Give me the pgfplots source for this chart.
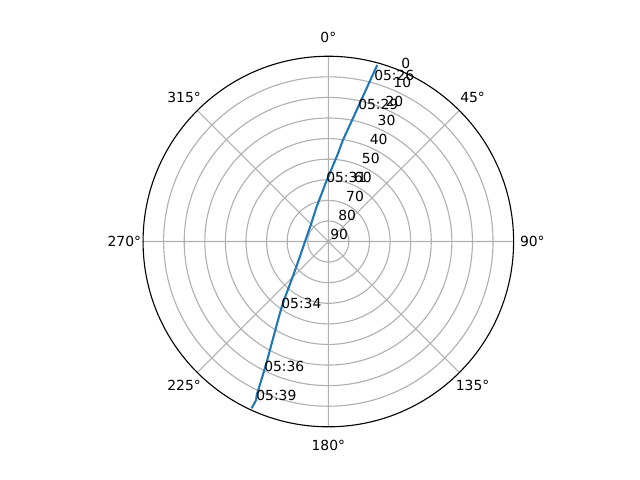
\documentclass[border=0pt]{standalone}
\usepackage{fontspec}
\setmainfont{DejaVu Sans}
\usepackage{pgfplots}
\usepackage{pgfplotstable}
\pgfplotsset{compat=1.18}
\usepgfplotslibrary{polar}
\definecolor{mplblue}{HTML}{1F77B4}
\definecolor{gridgray}{HTML}{B0B0B0}

% pass track: azimuth (deg, clockwise from N), elevation (deg)
\pgfplotstableread{
az el
15.5 1.0
14.6 8.9
12.2 24.6
8.2 40.2
6.0 47.7
0.6 57.7
357.8 61.1
339.7 72.8
313.2 78.3
270.5 78.7
239.9 73.7
226.3 66.5
217.1 54.3
215.0 50.0
211.2 40.7
207.1 24.4
206.4 19.7
205.0 7.7
204.5 5.4
204.7 0.8
}\track

\pgfplotstableread{
az el label
15.8 8.5 05:26
12.7 24.5 05:29
357.8 61.1 05:31
215.0 50.0 05:34
206.4 19.7 05:36
204.5 5.4 05:39
}\passlabels

\begin{document}
\begin{tikzpicture}
\begin{polaraxis}[
  scale only axis,
  width=266.8pt, height=266.8pt,
  xmin=0, xmax=360, ymin=0, ymax=90,
  xtick={0,45,...,315}, xticklabels={},
  ytick={10,20,...,80}, yticklabels={},
  grid=major,
  major grid style={gridgray, line width=0.8pt},
  major tick length=0pt,
  axis line style={black, line width=0.8pt},
  y axis line style={draw=none},
  clip=false,
]
\addplot[mplblue, line width=1.5pt, no marks]
  table[x expr={90-\thisrow{az}}, y expr={90-\thisrow{el}}] {\track};
\addplot[draw=none, no marks, nodes near coords, point meta=explicit symbolic,
  every node near coord/.append style={anchor=base west, inner sep=0pt, text=black}]
  table[x expr={90-\thisrow{az}}, y expr={90-\thisrow{el}}, meta=label] {\passlabels};

% azimuth labels
\node[anchor=center] at (axis cs:90,99.1) {0°};
\node[anchor=center] at (axis cs:45,99.1) {45°};
\node[anchor=center] at (axis cs:0,99.1) {90°};
\node[anchor=center] at (axis cs:-45,99.1) {135°};
\node[anchor=center] at (axis cs:-90,99.1) {180°};
\node[anchor=center] at (axis cs:-135,99.1) {225°};
\node[anchor=center] at (axis cs:180,99.1) {270°};
\node[anchor=center] at (axis cs:135,99.1) {315°};

% elevation labels
\node[anchor=south west, inner sep=0pt, xshift=1.3pt, yshift=1.3pt] at (axis cs:67.5,90) {0};
\node[anchor=south west, inner sep=0pt, xshift=1.3pt, yshift=1.3pt] at (axis cs:67.5,80) {10};
\node[anchor=south west, inner sep=0pt, xshift=1.3pt, yshift=1.3pt] at (axis cs:67.5,70) {20};
\node[anchor=south west, inner sep=0pt, xshift=1.3pt, yshift=1.3pt] at (axis cs:67.5,60) {30};
\node[anchor=south west, inner sep=0pt, xshift=1.3pt, yshift=1.3pt] at (axis cs:67.5,50) {40};
\node[anchor=south west, inner sep=0pt, xshift=1.3pt, yshift=1.3pt] at (axis cs:67.5,40) {50};
\node[anchor=south west, inner sep=0pt, xshift=1.3pt, yshift=1.3pt] at (axis cs:67.5,30) {60};
\node[anchor=south west, inner sep=0pt, xshift=1.3pt, yshift=1.3pt] at (axis cs:67.5,20) {70};
\node[anchor=south west, inner sep=0pt, xshift=1.3pt, yshift=1.3pt] at (axis cs:67.5,10) {80};
\node[anchor=south west, inner sep=0pt, xshift=1.3pt, yshift=1.3pt] at (axis cs:67.5,0) {90};

\coordinate (C) at (axis cs:0,0);
\end{polaraxis}
\pgfresetboundingbox
\path[use as bounding box] ([shift={(-236.4pt,-171.7pt)}]C) rectangle ([shift={(224.4pt,173.9pt)}]C);
\end{tikzpicture}
\end{document}
